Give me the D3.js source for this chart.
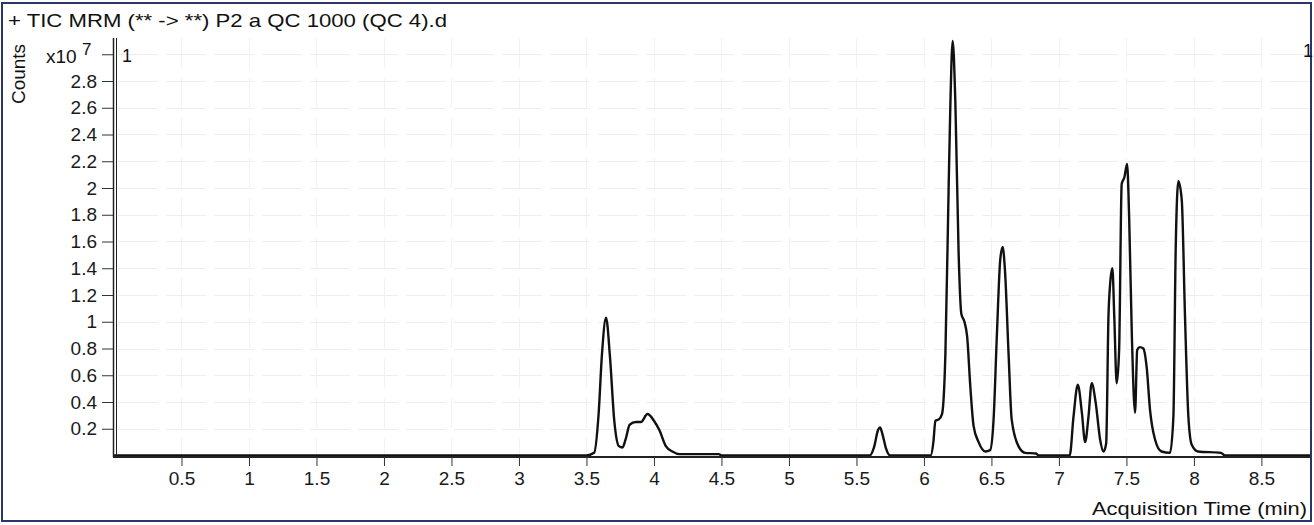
<!DOCTYPE html>
<html>
<head>
<meta charset="utf-8">
<script src="https://cdn.jsdelivr.net/npm/d3@7"></script>
<style>
  body { margin: 0; background: #fff; }
  svg { display: block; font-family: "Liberation Sans", Arial, sans-serif; }
</style>
</head>
<body>
<svg width="1314" height="525"></svg>
<script>
// retention time (min) and TIC counts (x10^7)
const times = [0, 3.50, 3.557, 3.59, 3.615, 3.645, 3.674, 3.706, 3.74, 3.767, 3.79, 3.82, 3.866, 3.903, 3.952, 4.0, 4.04, 4.088, 4.137, 4.19, 4.48, 4.50,
  5.60, 5.63, 5.66, 5.675, 5.69, 5.72, 5.75,
  6.05, 6.07, 6.085, 6.11, 6.134, 6.159, 6.183, 6.196, 6.213, 6.233, 6.257, 6.277, 6.30, 6.32, 6.344, 6.368, 6.405, 6.455, 6.49,
  6.516, 6.54, 6.565, 6.583, 6.60, 6.627, 6.65, 6.70, 6.75, 6.83, 6.85,
  7.08, 7.108, 7.14, 7.17, 7.194, 7.219, 7.243, 7.273, 7.305, 7.33, 7.35, 7.367, 7.38, 7.396, 7.41, 7.428, 7.446, 7.465, 7.485, 7.505,
  7.52, 7.54, 7.564, 7.58, 7.60, 7.625, 7.65, 7.675, 7.712, 7.76, 7.823, 7.848, 7.865, 7.885, 7.91, 7.934, 7.959, 7.984, 8.03, 8.20, 8.23, 8.86]
const counts = [0, 0, 0.02, 0.31, 0.76, 1.03, 0.74, 0.26, 0.07, 0.06, 0.12, 0.23, 0.25, 0.25, 0.31, 0.26, 0.19, 0.07, 0.03, 0.01, 0.01, 0,
  0, 0.06, 0.19, 0.21, 0.17, 0.05, 0,
  0, 0.1, 0.26, 0.27, 0.31, 0.76, 2.0, 2.63, 3.1, 2.63, 1.51, 1.06, 1.0, 0.89, 0.51, 0.22, 0.10, 0.03, 0.04,
  0.27, 0.89, 1.46, 1.56, 1.39, 0.76, 0.27, 0.07, 0.02, 0.015, 0,
  0, 0.29, 0.53, 0.32, 0.10, 0.29, 0.54, 0.39, 0.12, 0.03, 0.09, 1.04, 1.29, 1.40, 1.04, 0.54, 0.79, 2.03, 2.08, 2.18,
  1.79, 0.91, 0.32, 0.79, 0.81, 0.80, 0.66, 0.34, 0.12, 0.03, 0.02, 0.29, 1.54, 2.05, 1.91, 1.04, 0.29, 0.08, 0.03, 0.02, 0, 0]

const xTicks = [0.5, 1, 1.5, 2, 2.5, 3, 3.5, 4, 4.5, 5, 5.5, 6, 6.5, 7, 7.5, 8, 8.5]
const yTicks = [0.2, 0.4, 0.6, 0.8, 1, 1.2, 1.4, 1.6, 1.8, 2, 2.2, 2.4, 2.6, 2.8, 3]

const titleText = "+ TIC MRM (** -> **) P2 a QC 1000 (QC 4).d"

const svg = d3.select("svg")
const plotLeft = 114, plotRight = 1310, plotTop = 38, plotBottom = 457

const x = d3.scaleLinear().domain([0, 8.86]).range([plotLeft, plotRight])
const y = d3.scaleLinear().domain([0, 2.8]).range([455.5, 81])

// outer frame
svg.append("rect")
  .attr("x", 2).attr("y", 3).attr("width", 1309).attr("height", 518)
  .attr("fill", "#fff").attr("stroke", "#2b3566").attr("stroke-width", 2)

// grid (very faint, broken)
svg.append("g").selectAll("line").data(yTicks).join("line")
  .attr("x1", plotLeft + 4).attr("x2", plotRight)
  .attr("y1", d => Math.round(y(d)) + 0.5).attr("y2", d => Math.round(y(d)) + 0.5)
  .attr("stroke", "#ededed").attr("stroke-dasharray", "40,8")
svg.append("g").selectAll("line").data(xTicks).join("line")
  .attr("y1", plotTop).attr("y2", plotBottom)
  .attr("x1", d => Math.round(x(d)) + 0.5).attr("x2", d => Math.round(x(d)) + 0.5)
  .attr("stroke", "#f2f2f2").attr("stroke-dasharray", "30,10")

// trace
const line = d3.line()
  .x((d, i) => x(times[i]))
  .y(d => y(d))
  .curve(d3.curveMonotoneX)

svg.append("path")
  .datum(counts)
  .attr("d", line)
  .attr("fill", "none")
  .attr("stroke", "#111")
  .attr("stroke-width", 2.4)
  .attr("stroke-linejoin", "round")

// y axis
const yAxis = svg.append("g")
  .attr("transform", `translate(${plotLeft - 1},0)`)
  .call(d3.axisLeft(y).tickValues(yTicks).tickSize(11).tickPadding(5)
    .tickFormat(d => d === 3 ? "" : d3.format("~g")(d)))
yAxis.select(".domain").remove()
yAxis.selectAll("text").attr("font-size", 19).attr("fill", "#1a1a1a").attr("font-family", null)
yAxis.selectAll("line").attr("stroke", "#333")

// double vertical axis line
svg.append("line").attr("x1", 113.5).attr("x2", 113.5).attr("y1", plotTop).attr("y2", plotBottom)
  .attr("stroke", "#222").attr("stroke-width", 1.5)
svg.append("line").attr("x1", 116.5).attr("x2", 116.5).attr("y1", plotTop).attr("y2", plotBottom)
  .attr("stroke", "#222").attr("stroke-width", 1)

// x axis
const xAxis = svg.append("g")
  .attr("transform", `translate(0,${plotBottom})`)
  .call(d3.axisBottom(x).tickValues(xTicks).tickSize(9).tickPadding(6).tickFormat(d3.format("~g")))
xAxis.select(".domain").attr("d", `M${plotLeft - 1},0H${plotRight}`).attr("stroke", "#222").attr("stroke-width", 2)
xAxis.selectAll("text").attr("font-size", 19).attr("fill", "#1a1a1a").attr("font-family", null)
xAxis.selectAll("line").attr("stroke", "#333")

// labels
svg.append("text").attr("x", 8).attr("y", 27).attr("font-size", 19).attr("fill", "#111")
  .attr("textLength", 439).attr("lengthAdjust", "spacingAndGlyphs")
  .text(titleText)

svg.append("text").attr("transform", "translate(25,74) rotate(-90)")
  .attr("text-anchor", "middle").attr("font-size", 19).attr("fill", "#111")
  .text("Counts")

const exp = svg.append("text").attr("x", 46).attr("y", 63).attr("font-size", 19).attr("fill", "#111")
exp.append("tspan").text("x10 ")
exp.append("tspan").attr("dy", -8).attr("font-size", 17).text("7")

svg.append("text").attr("x", 122).attr("y", 62).attr("font-size", 18).attr("fill", "#111").text("1")
svg.append("text").attr("x", 1303).attr("y", 57).attr("font-size", 18).attr("fill", "#111").text("1")

svg.append("text").attr("x", 1307).attr("y", 515).attr("text-anchor", "end")
  .attr("font-size", 19).attr("fill", "#111")
  .attr("textLength", 215).attr("lengthAdjust", "spacingAndGlyphs")
  .text("Acquisition Time (min)")
</script>
</body>
</html>
